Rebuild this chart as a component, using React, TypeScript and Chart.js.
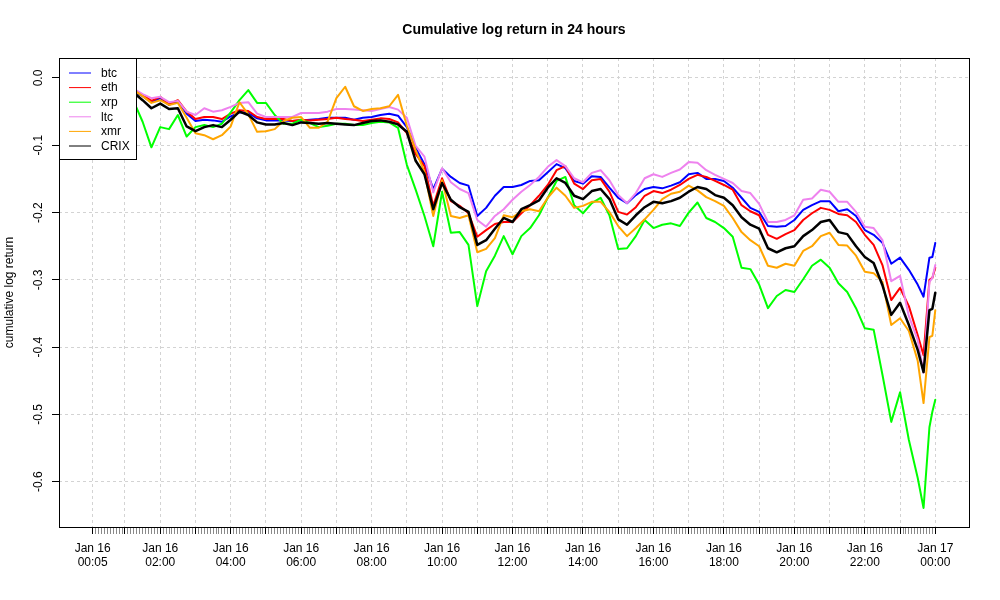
import React, { useEffect, useRef } from "react";
import { Chart, ChartConfiguration, Plugin, registerables } from "chart.js";

Chart.register(...registerables);

// minutes after Jan 16 00:00
const minutes = [
  5, 15, 30, 45, 60, 75,
  90, 105, 120, 135, 150, 165, 180, 195, 210, 225, 240, 255, 270, 285, 300, 315, 330, 345, 360,
  375, 390, 405, 420, 435, 450, 465, 480, 495, 510, 525, 540, 555, 570, 585, 600, 615, 630, 645, 660,
  675, 690, 705, 720, 735, 750, 765, 780, 795, 810, 825, 840, 855, 870, 885, 900, 915, 930, 945, 960,
  975, 990, 1005, 1020, 1035, 1050, 1065, 1080, 1095, 1110, 1125, 1140, 1155, 1170, 1185, 1200, 1215, 1230, 1245, 1260,
  1275, 1290, 1305, 1320, 1335, 1350, 1365, 1380, 1395, 1410,
  1420, 1430, 1435, 1440,
];

const btc = [
  -0.004, -0.008, -0.011, -0.013, -0.016, -0.02,
  -0.027, -0.036, -0.03, -0.04, -0.035, -0.053, -0.064, -0.062, -0.063, -0.065, -0.057, -0.051, -0.052, -0.06, -0.063, -0.063, -0.063, -0.064, -0.063,
  -0.062, -0.061, -0.059, -0.059, -0.059, -0.062, -0.059, -0.058, -0.055, -0.053, -0.056, -0.073, -0.104, -0.128, -0.165, -0.135, -0.147, -0.156, -0.16, -0.205,
  -0.193, -0.175, -0.162, -0.162, -0.159, -0.153, -0.152, -0.14, -0.128, -0.134, -0.153, -0.157, -0.146, -0.147, -0.163, -0.178, -0.186, -0.174, -0.165, -0.162,
  -0.164, -0.16, -0.155, -0.143, -0.141, -0.15, -0.15, -0.153, -0.163, -0.178, -0.193, -0.199, -0.22, -0.221, -0.22, -0.211, -0.196, -0.189, -0.183, -0.183,
  -0.198, -0.195, -0.205, -0.226, -0.233, -0.245, -0.276, -0.267, -0.285, -0.307,
  -0.325, -0.267, -0.266, -0.245,
];

const eth = [
  -0.004, -0.007, -0.01, -0.012, -0.015, -0.019,
  -0.025, -0.034, -0.028, -0.039, -0.033, -0.05, -0.061, -0.058, -0.058, -0.061, -0.053, -0.048, -0.049, -0.058, -0.061, -0.061, -0.061, -0.064, -0.062,
  -0.063, -0.062, -0.061, -0.059, -0.061, -0.062, -0.064, -0.062, -0.06, -0.061, -0.066, -0.082, -0.113, -0.131, -0.19, -0.149, -0.183, -0.19, -0.201, -0.236,
  -0.226, -0.217, -0.214, -0.214, -0.201, -0.189, -0.175, -0.159, -0.137, -0.131, -0.157, -0.165, -0.152, -0.15, -0.169, -0.199, -0.203, -0.192, -0.175, -0.168,
  -0.171, -0.166, -0.159, -0.15, -0.144, -0.147, -0.153, -0.159, -0.166, -0.189, -0.198, -0.204, -0.233, -0.239, -0.232, -0.226, -0.211, -0.201, -0.193, -0.196,
  -0.202, -0.204, -0.214, -0.233, -0.248, -0.278, -0.33, -0.312, -0.339, -0.382,
  -0.412, -0.3, -0.297, -0.282,
];

const xrp = [
  -0.006, -0.012, -0.018, -0.024, -0.03, -0.035,
  -0.065, -0.103, -0.073, -0.076, -0.055, -0.087, -0.073, -0.07, -0.073, -0.068, -0.051, -0.033, -0.018, -0.037, -0.037, -0.055, -0.068, -0.068, -0.062,
  -0.067, -0.073, -0.071, -0.068, -0.068, -0.07, -0.07, -0.067, -0.065, -0.066, -0.074, -0.129, -0.166, -0.205, -0.25, -0.169, -0.23, -0.229, -0.248, -0.339,
  -0.287, -0.264, -0.235, -0.262, -0.235, -0.223, -0.204, -0.178, -0.153, -0.147, -0.189, -0.201, -0.186, -0.178, -0.204, -0.254, -0.253, -0.235, -0.211, -0.223,
  -0.218, -0.216, -0.22, -0.2, -0.185, -0.208, -0.214, -0.223, -0.236, -0.282, -0.284, -0.307, -0.342, -0.324, -0.315, -0.318, -0.299, -0.279, -0.27, -0.282,
  -0.305, -0.318, -0.342, -0.372, -0.374, -0.441, -0.511, -0.467, -0.538, -0.594,
  -0.639, -0.519, -0.496, -0.478,
];

const ltc = [
  -0.003, -0.006, -0.009, -0.011, -0.013, -0.016,
  -0.024, -0.03, -0.028, -0.036, -0.034, -0.05, -0.055, -0.045, -0.05, -0.048, -0.043, -0.037, -0.036, -0.053, -0.058, -0.058, -0.058, -0.058, -0.052,
  -0.052, -0.052, -0.05, -0.046, -0.046, -0.047, -0.048, -0.049, -0.046, -0.043, -0.047, -0.059, -0.101, -0.117, -0.17, -0.134, -0.155, -0.165, -0.171, -0.211,
  -0.221, -0.205, -0.195, -0.181, -0.169, -0.159, -0.147, -0.132, -0.122, -0.131, -0.149, -0.155, -0.141, -0.137, -0.152, -0.174, -0.186, -0.171, -0.149, -0.143,
  -0.147, -0.141, -0.136, -0.125, -0.126, -0.137, -0.144, -0.15, -0.156, -0.168, -0.171, -0.187, -0.214, -0.214, -0.211, -0.204, -0.181, -0.179, -0.166, -0.169,
  -0.184, -0.184, -0.199, -0.221, -0.223, -0.241, -0.302, -0.294, -0.354, -0.389,
  -0.438, -0.303, -0.297, -0.278,
];

const xmr = [
  -0.003, -0.006, -0.009, -0.011, -0.014, -0.018,
  -0.027, -0.037, -0.033, -0.04, -0.037, -0.059, -0.082, -0.085, -0.091, -0.085, -0.072, -0.036, -0.054, -0.08, -0.079, -0.076, -0.064, -0.059, -0.058,
  -0.074, -0.074, -0.065, -0.03, -0.013, -0.042, -0.049, -0.046, -0.045, -0.042, -0.025, -0.071, -0.107, -0.14, -0.205, -0.152, -0.205, -0.208, -0.204, -0.259,
  -0.254, -0.238, -0.204, -0.207, -0.198, -0.195, -0.198, -0.178, -0.163, -0.175, -0.193, -0.19, -0.184, -0.184, -0.199, -0.22, -0.235, -0.223, -0.21, -0.196,
  -0.18, -0.172, -0.169, -0.16, -0.167, -0.177, -0.183, -0.19, -0.208, -0.229, -0.241, -0.25, -0.279, -0.282, -0.276, -0.279, -0.257, -0.25, -0.235, -0.23,
  -0.248, -0.249, -0.264, -0.288, -0.29, -0.303, -0.367, -0.357, -0.376, -0.42,
  -0.483, -0.385, -0.383, -0.345,
];

const crix = [
  -0.003, -0.007, -0.01, -0.013, -0.017, -0.022,
  -0.033, -0.045, -0.038, -0.046, -0.045, -0.072, -0.079, -0.073, -0.07, -0.073, -0.062, -0.05, -0.055, -0.066, -0.069, -0.069, -0.067, -0.07, -0.066,
  -0.067, -0.068, -0.067, -0.068, -0.069, -0.07, -0.067, -0.064, -0.063, -0.065, -0.069, -0.08, -0.123, -0.143, -0.195, -0.156, -0.181, -0.192, -0.199, -0.248,
  -0.241, -0.224, -0.208, -0.214, -0.195, -0.189, -0.182, -0.163, -0.149, -0.156, -0.175, -0.18, -0.168, -0.165, -0.18, -0.21, -0.218, -0.204, -0.192, -0.184,
  -0.186, -0.183, -0.178, -0.169, -0.162, -0.165, -0.174, -0.178, -0.189, -0.207, -0.218, -0.224, -0.253, -0.259, -0.253, -0.25, -0.235, -0.226, -0.214, -0.211,
  -0.229, -0.232, -0.25, -0.266, -0.275, -0.308, -0.352, -0.334, -0.367, -0.404,
  -0.437, -0.345, -0.343, -0.319,
];

const seriesNames = ["btc", "eth", "xrp", "ltc", "xmr", "CRIX"];
const seriesColors = ["#0000ff", "#ff0000", "#00ff00", "#ee82ee", "#ffa500", "#000000"];
const seriesValues = [btc, eth, xrp, ltc, xmr, crix];

const xLabelMinutes = [5, 120, 240, 360, 480, 600, 720, 840, 960, 1080, 1200, 1320, 1440];
const xLabelDays = ["Jan 16", "Jan 16", "Jan 16", "Jan 16", "Jan 16", "Jan 16", "Jan 16", "Jan 16", "Jan 16", "Jan 16", "Jan 16", "Jan 16", "Jan 17"];
const xLabelTimes = ["00:05", "02:00", "04:00", "06:00", "08:00", "10:00", "12:00", "14:00", "16:00", "18:00", "20:00", "22:00", "00:00"];

const yTickValues = [0, -0.1, -0.2, -0.3, -0.4, -0.5, -0.6];
const yTickLabels = ["0.0", "-0.1", "-0.2", "-0.3", "-0.4", "-0.5", "-0.6"];

const FONT = "'Liberation Sans', Arial, Helvetica, sans-serif";

// minor ticks every 5 minutes, as R draws them
const xTickMinutes: number[] = [];
for (let m = 5; m <= 1440; m += 5) xTickMinutes.push(m);
const isMajor = (m: number) => m === 5 || m % 60 === 0;

const basePlot: Plugin = {
  id: "basePlot",
  afterDatasetsDraw(chart) {
    const { ctx, chartArea: a } = chart;
    const yScale = chart.scales.y;
    ctx.save();

    // plot box
    ctx.strokeStyle = "#000";
    ctx.lineWidth = 1;
    ctx.strokeRect(Math.round(a.left) + 0.5, Math.round(a.top) + 0.5, Math.round(a.right - a.left), Math.round(a.bottom - a.top));

    // legend, top-left corner
    const lx = Math.round(a.left) + 0.5;
    const ly = Math.round(a.top) + 0.5;
    ctx.fillStyle = "#fff";
    ctx.fillRect(lx, ly, 77, 101);
    ctx.strokeRect(lx, ly, 77, 101);
    ctx.font = `12px ${FONT}`;
    ctx.textAlign = "left";
    ctx.textBaseline = "middle";
    seriesNames.forEach((name, i) => {
      const rowY = a.top + 15 + i * 14.6;
      ctx.strokeStyle = seriesColors[i];
      ctx.beginPath();
      ctx.moveTo(a.left + 10, rowY);
      ctx.lineTo(a.left + 32, rowY);
      ctx.stroke();
      ctx.fillStyle = "#000";
      ctx.fillText(name, a.left + 42, rowY + 0.5);
    });

    // title
    ctx.font = `bold 14px ${FONT}`;
    ctx.textAlign = "center";
    ctx.fillText("Cumulative log return in 24 hours", (a.left + a.right) / 2, 30);

    // y tick labels, rotated like R's las = 0
    ctx.font = `12px ${FONT}`;
    yTickValues.forEach((v, i) => {
      const py = yScale.getPixelForValue(v);
      ctx.save();
      ctx.translate(39, py);
      ctx.rotate(-Math.PI / 2);
      ctx.fillText(yTickLabels[i], 0, 0);
      ctx.restore();
    });

    // y axis title
    ctx.save();
    ctx.translate(10, (a.top + a.bottom) / 2);
    ctx.rotate(-Math.PI / 2);
    ctx.fillText("cumulative log return", 0, 0);
    ctx.restore();

    ctx.restore();
  },
};

const App: React.FC = () => {
  const chartRef = useRef<HTMLCanvasElement>(null);
  const chartInstance = useRef<Chart | null>(null);

  useEffect(() => {
    if (!chartRef.current) return;
    const ctx = chartRef.current.getContext("2d");
    if (!ctx) return;
    if (chartInstance.current) chartInstance.current.destroy();

    Chart.defaults.font.family = FONT;
    Chart.defaults.color = "#000";

    const order = [6, 5, 4, 3, 2, 1];

    const chartConfig: ChartConfiguration<"line"> = {
      type: "line",
      data: {
        datasets: seriesNames.map((name, i) => ({
          label: name,
          data: minutes.map((m, j) => ({ x: m, y: seriesValues[i][j] })),
          borderColor: seriesColors[i],
          backgroundColor: seriesColors[i],
          borderWidth: name === "CRIX" ? 2.5 : 2,
          borderJoinStyle: "round" as const,
          borderCapStyle: "round" as const,
          pointRadius: 0,
          tension: 0,
          order: order[i],
        })),
      },
      options: {
        responsive: false,
        animation: false,
        devicePixelRatio: 1,
        layout: {
          autoPadding: false,
          padding: { top: 58, right: 31, bottom: 0, left: 0 },
        },
        plugins: {
          legend: { display: false },
          title: { display: false },
          tooltip: { enabled: false },
        },
        scales: {
          x: {
            type: "linear",
            min: -52.4,
            max: 1497.4,
            afterBuildTicks: (scale) => {
              scale.ticks = xTickMinutes.map((m) => ({ value: m }));
            },
            afterFit: (scale) => {
              scale.height = 73;
            },
            border: { display: false, dash: [3, 3] },
            grid: {
              color: (c) => (isMajor(c.tick.value) ? "#d3d3d3" : "rgba(0,0,0,0)"),
              tickColor: (c) => (isMajor(c.tick.value) ? "#000" : "#8a8a8a"),
              tickLength: 7,
              lineWidth: 1,
            },
            ticks: {
              autoSkip: false,
              maxRotation: 0,
              minRotation: 0,
              padding: 7,
              color: "#000",
              font: { size: 12, lineHeight: 1.2 },
              callback: (value) => {
                const i = xLabelMinutes.indexOf(Number(value));
                return i >= 0 ? [xLabelDays[i], xLabelTimes[i]] : "";
              },
            },
          },
          y: {
            type: "linear",
            min: -0.6672,
            max: 0.0297,
            afterBuildTicks: (scale) => {
              scale.ticks = yTickValues.map((v) => ({ value: v }));
            },
            afterFit: (scale) => {
              scale.width = 59;
            },
            border: { display: false, dash: [3, 3] },
            grid: {
              color: "#d3d3d3",
              tickColor: "#000",
              tickLength: 7,
              lineWidth: 1,
            },
            ticks: { display: false },
          },
        },
      },
      plugins: [basePlot],
    };

    chartInstance.current = new Chart(ctx, chartConfig);

    return () => {
      if (chartInstance.current) {
        chartInstance.current.destroy();
        chartInstance.current = null;
      }
    };
  }, []);

  return (
    <div style={{ position: "fixed", left: 0, top: 0, width: 1000, height: 600, background: "#fff" }}>
      <canvas ref={chartRef} width={1000} height={600} />
    </div>
  );
};

export default App;
